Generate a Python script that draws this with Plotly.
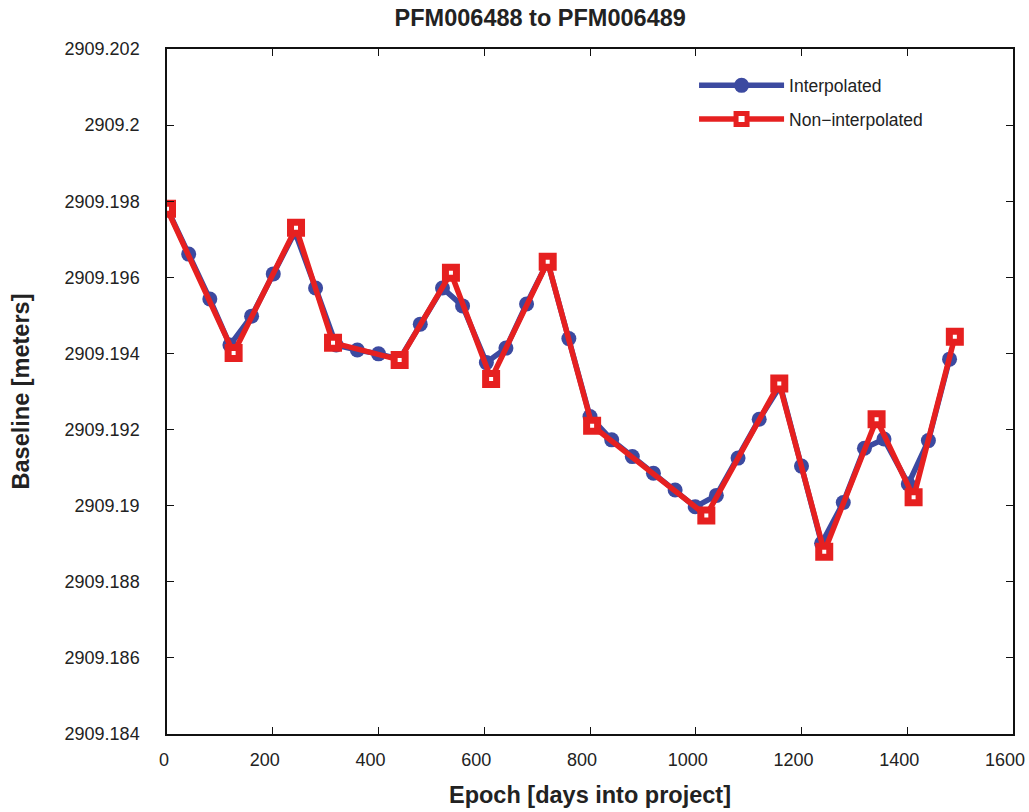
import plotly.graph_objects as go

# Interpolated series
interp_days = [0, 41, 81, 119, 160, 201, 242, 281, 320, 360, 400, 440, 479, 521, 559,
               604, 641, 680, 720, 760, 800, 841, 880, 920, 961, 999, 1039, 1080, 1120,
               1160, 1200, 1238, 1279, 1319, 1356, 1402, 1440, 1480]
interp_vals = [2909.19782, 2909.19661, 2909.19543, 2909.19422, 2909.19498, 2909.19609,
               2909.19719, 2909.19572, 2909.19422, 2909.19409, 2909.19399, 2909.19385,
               2909.19477, 2909.19572, 2909.19525, 2909.19376, 2909.19414, 2909.19530,
               2909.19640, 2909.19439, 2909.19234, 2909.19173, 2909.19129, 2909.19085,
               2909.19041, 2909.18997, 2909.19027, 2909.19125, 2909.19227, 2909.19315,
               2909.19104, 2909.18901, 2909.19008, 2909.19151, 2909.19175, 2909.19057,
               2909.19171, 2909.19385]

# Non-interpolated series
raw_days = [0, 126, 244, 314, 440, 537, 613, 720, 804, 1020, 1158, 1243, 1342, 1412, 1490]
raw_vals = [2909.19780, 2909.19401, 2909.19730, 2909.19428, 2909.19383, 2909.19612,
            2909.19333, 2909.19641, 2909.19210, 2909.18974, 2909.19321, 2909.18879,
            2909.19227, 2909.19022, 2909.19444]

y_ticks = [2909.184, 2909.186, 2909.188, 2909.190, 2909.192, 2909.194, 2909.196,
           2909.198, 2909.200, 2909.202]
y_tick_text = ["2909.184", "2909.186", "2909.188", "2909.19", "2909.192", "2909.194",
               "2909.196", "2909.198", "2909.2", "2909.202"]
x_ticks = [0, 200, 400, 600, 800, 1000, 1200, 1400, 1600]
x_tick_text = ["\u00a0\u00a00", "200", "400", "600", "800", "1000", "1200", "1400", "1600"]

BLUE = "rgb(60,74,160)"
RED = "rgb(230,32,32)"
FONT = "Liberation Sans, Arial, sans-serif"

fig = go.Figure()
fig.add_trace(go.Scatter(
    x=interp_days, y=interp_vals, name="Interpolated", mode="lines+markers",
    legendgroup="a",
    line=dict(color=BLUE, width=5.5),
    marker=dict(symbol="circle", size=15, color=BLUE),
))
fig.add_trace(go.Scatter(
    x=raw_days, y=raw_vals, name="Non\u2212interpolated", mode="lines+markers",
    legendgroup="b",
    line=dict(color=RED, width=5.5),
    marker=dict(symbol="square", size=11, color="white", line=dict(color=RED, width=7)),
))

axis_common = dict(
    showline=True, linecolor="#111", linewidth=1.5, mirror="ticks",
    ticks="inside", ticklen=7, tickcolor="#111", tickwidth=1,
    showgrid=False, zeroline=False, ticklabeloverflow="allow", automargin=False,
    tickfont=dict(family=FONT, size=18, color="#222"),
)

fig.update_layout(
    width=1029, height=812,
    margin=dict(l=167, r=16, t=49, b=78, autoexpand=False),
    paper_bgcolor="white", plot_bgcolor="white",
    font=dict(family=FONT, color="#222"),
    title=dict(text="<b>PFM006488 to PFM006489</b>", x=0.525, xanchor="center",
               y=0.978, yanchor="middle", font=dict(size=23.5, color="#222")),
    xaxis=dict(range=[0, 1600], tickvals=x_ticks, ticktext=x_tick_text,
               title=dict(text="<b>Epoch [days into project]</b>", font=dict(size=23.5), standoff=17),
               ticklabelstandoff=9, ticklabelshift=-8, **axis_common),
    yaxis=dict(range=[2909.184, 2909.202], tickvals=y_ticks, ticktext=y_tick_text,
               title=dict(text="<b>Baseline [meters]</b>", font=dict(size=23.5), standoff=28),
               ticklabelstandoff=22, **axis_common),
    legend=dict(x=0.623, y=0.973, xanchor="left", yanchor="top",
                bgcolor="rgba(255,255,255,0)", font=dict(size=17.5, color="#222"),
                itemwidth=85, tracegroupgap=8),
    showlegend=True,
)

fig.write_html("out.html")
